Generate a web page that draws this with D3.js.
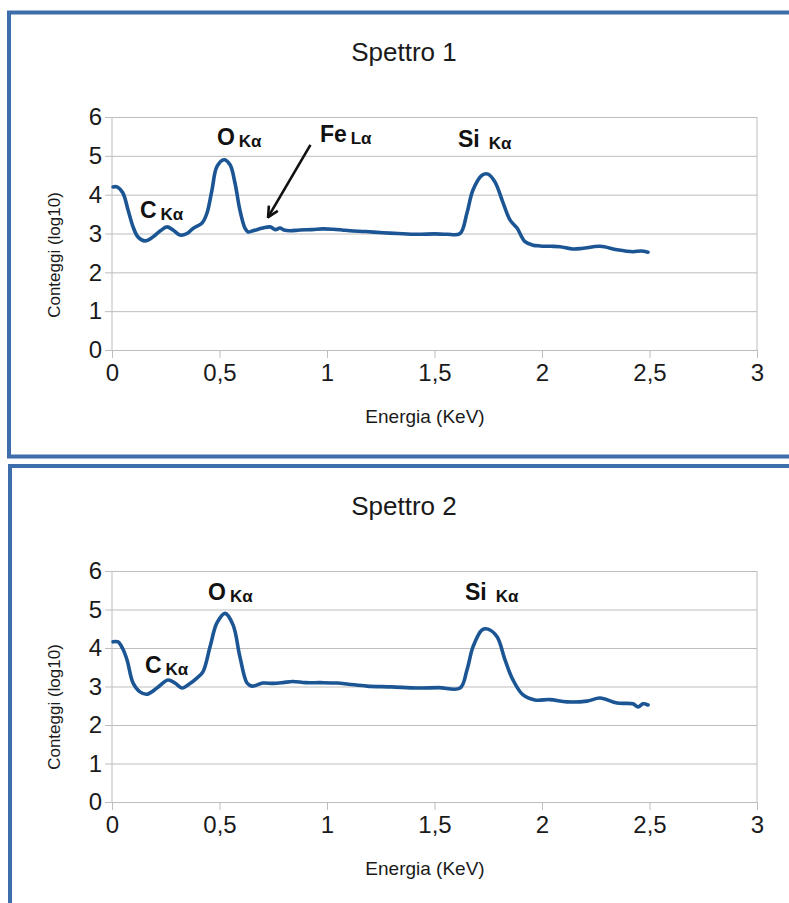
<!DOCTYPE html>
<html lang="it">
  <head>
    <meta charset="UTF-8" />
    <script src="https://d3js.org/d3.v7.min.js"></script>
    <title>Spettri EDS</title>
    <style>
      body { margin: 0; background: #fff; }
      svg { display: block; font-family: "Liberation Sans", Arial, sans-serif; }
    </style>
  </head>
  <body>
    <div id="chart"></div>
    <script>
      // Energy (keV) and log10 counts
      const energy1 = [0.005, 0.023, 0.05, 0.075, 0.098, 0.121, 0.153, 0.19, 0.225, 0.256, 0.284, 0.316,
        0.349, 0.377, 0.419, 0.442, 0.465, 0.488, 0.521, 0.549, 0.572, 0.595, 0.619, 0.633, 0.656,
        0.702, 0.735, 0.76, 0.781, 0.8, 0.828, 0.874, 0.93, 0.981, 1.028, 1.07, 1.107, 1.18, 1.26,
        1.33, 1.419, 1.5, 1.558, 1.619, 1.651, 1.679, 1.721, 1.749, 1.781, 1.819, 1.851, 1.884,
        1.921, 1.958, 1.991, 2.04, 2.084, 2.144, 2.191, 2.27, 2.349, 2.423, 2.46, 2.493];
      const counts1 = [4.2, 4.2, 4.05, 3.6, 3.17, 2.91, 2.81, 2.91, 3.07, 3.17, 3.09, 2.96,
        3.0, 3.13, 3.27, 3.53, 4.12, 4.72, 4.9, 4.77, 4.3, 3.6, 3.13, 3.04, 3.07,
        3.14, 3.17, 3.1, 3.14, 3.09, 3.07, 3.09, 3.1, 3.12, 3.11, 3.09, 3.07, 3.05, 3.02,
        3.0, 2.98, 2.99, 2.98, 3.0, 3.53, 4.12, 4.5, 4.53, 4.33, 3.79, 3.35, 3.14,
        2.79, 2.7, 2.68, 2.67, 2.66, 2.6, 2.62, 2.67, 2.58, 2.53, 2.55, 2.52];

      const energy2 = [0.005, 0.028, 0.05, 0.07, 0.098, 0.13, 0.163, 0.209, 0.26, 0.293, 0.326,
        0.353, 0.395, 0.423, 0.456, 0.488, 0.526, 0.563, 0.595, 0.628, 0.651, 0.702, 0.75,
        0.795, 0.84, 0.9, 0.97, 1.047, 1.1, 1.186, 1.3, 1.419, 1.52, 1.619, 1.651, 1.679, 1.721,
        1.749, 1.791, 1.828, 1.865, 1.912, 1.967, 2.037, 2.116, 2.209, 2.27, 2.349, 2.423,
        2.447, 2.47, 2.493];
      const counts2 = [4.16, 4.16, 3.98, 3.69, 3.09, 2.86, 2.8, 2.96, 3.17, 3.09, 2.96,
        3.04, 3.22, 3.38, 4.03, 4.65, 4.9, 4.6, 3.77, 3.09, 3.01, 3.09, 3.08,
        3.1, 3.13, 3.1, 3.1, 3.09, 3.06, 3.01, 2.99, 2.96, 2.97, 2.96, 3.43, 4.03, 4.47,
        4.49, 4.29, 3.69, 3.17, 2.78, 2.65, 2.66, 2.6, 2.62, 2.7, 2.57, 2.55,
        2.47, 2.55, 2.52];

      const xTicks = [0, 0.5, 1, 1.5, 2, 2.5, 3];
      const xTickLabels = ["0", "0,5", "1", "1,5", "2", "2,5", "3"];
      const yTicks = [0, 1, 2, 3, 4, 5, 6];

      // peak labels: element, line, energy, log counts of the label's left/baseline
      const peaks1 = [
        { el: "C", line: "Kα", e: 0.13, c: 3.4 },
        { el: "O", line: "Kα", e: 0.488, c: 5.28 },
        { el: "Fe", line: "Lα", e: 0.967, c: 5.36 },
        { el: "Si", line: "Kα", e: 1.609, c: 5.23 },
      ];
      const peaks2 = [
        { el: "C", line: "Kα", e: 0.153, c: 3.35 },
        { el: "O", line: "Kα", e: 0.447, c: 5.25 },
        { el: "Si", line: "Kα", e: 1.642, c: 5.25 },
      ];
      // arrow pointing at Fe L-alpha (from, to) in data units
      const feArrow = [{ e: 0.923, c: 5.28 }, { e: 0.726, c: 3.42 }];

      const W = 789, H = 903;
      const svg = d3.select("#chart").append("svg").attr("width", W).attr("height", H);

      svg.append("defs").append("marker")
        .attr("id", "head")
        .attr("viewBox", "0 0 10 10")
        .attr("refX", 9).attr("refY", 5)
        .attr("markerWidth", 5).attr("markerHeight", 5)
        .attr("orient", "auto")
        .append("path")
        .attr("d", "M1,1 L9,5 L1,9")
        .attr("fill", "none")
        .attr("stroke", "#111")
        .attr("stroke-width", 2);

      function panel(opts) {
        const g = svg.append("g");
        // frame
        g.append("rect")
          .attr("x", opts.frame[0]).attr("y", opts.frame[1])
          .attr("width", 900).attr("height", opts.frame[2])
          .attr("fill", "none")
          .attr("stroke", "#3e6dab")
          .attr("stroke-width", 4);

        const left = 112, right = 757, top = opts.top, bottom = opts.bottom;
        const x = d3.scaleLinear().domain([0, 3]).range([left, right]);
        const y = d3.scaleLinear().domain([0, 6]).range([bottom, top]);

        // horizontal grid + y axis
        g.append("g")
          .attr("transform", `translate(${left},0)`)
          .call(d3.axisLeft(y).tickValues(yTicks).tickFormat(d3.format("d"))
            .tickSizeInner(-(right - left)).tickSizeOuter(0).tickPadding(10))
          .call(a => a.select(".domain").remove())
          .call(a => a.selectAll("line").attr("stroke", "#bdbdbd").attr("x1", -7))
          .call(a => a.selectAll("text").attr("fill", "#1a1a1a").style("font-size", "24px"));

        // x axis
        g.append("g")
          .attr("transform", `translate(0,${bottom})`)
          .call(d3.axisBottom(x).tickValues(xTicks).tickFormat((d, i) => xTickLabels[i]).tickSize(8).tickPadding(6))
          .call(a => a.select(".domain").remove())
          .call(a => a.selectAll("line").attr("stroke", "#bdbdbd"))
          .call(a => a.selectAll("text").attr("fill", "#1a1a1a").style("font-size", "24px"));

        // plot borders (left axis and right edge)
        g.selectAll(".vborder").data([0, 3]).join("line")
          .attr("x1", d => x(d)).attr("x2", d => x(d))
          .attr("y1", top).attr("y2", bottom)
          .attr("stroke", "#bdbdbd");

        const pts = opts.energy.map((e, i) => [e, opts.counts[i]]);
        g.append("path")
          .datum(pts)
          .attr("fill", "none")
          .attr("stroke", "#1b5594")
          .attr("stroke-width", 3.6)
          .attr("stroke-linejoin", "round")
          .attr("stroke-linecap", "round")
          .attr("d", d3.line().x(d => x(d[0])).y(d => y(d[1])).curve(d3.curveCatmullRom.alpha(0.5)));

        // titles
        g.append("text")
          .attr("x", 404).attr("y", opts.titleY)
          .attr("text-anchor", "middle")
          .attr("fill", "#1a1a1a")
          .style("font-size", "26px")
          .text(opts.title);

        g.append("text")
          .attr("x", 425).attr("y", bottom + 73)
          .attr("text-anchor", "middle")
          .attr("fill", "#1a1a1a")
          .style("font-size", "19px")
          .text("Energia (KeV)");

        g.append("text")
          .attr("transform", `translate(60,${opts.yLabelC}) rotate(-90)`)
          .attr("text-anchor", "middle")
          .attr("fill", "#1a1a1a")
          .style("font-size", "17px")
          .text("Conteggi (log10)");

        // peak labels
        const lab = g.selectAll(".peak").data(opts.peaks).join("text")
          .attr("x", d => x(d.e)).attr("y", d => y(d.c))
          .attr("fill", "#111")
          .attr("font-weight", "bold");
        lab.append("tspan").style("font-size", "23px").text(d => d.el);
        lab.append("tspan").attr("dx", d => d.el === "Si" ? 9 : 4).attr("dy", 2)
          .style("font-size", "17px").text(d => d.line);

        if (opts.arrow) {
          g.append("line")
            .attr("x1", x(opts.arrow[0].e)).attr("y1", y(opts.arrow[0].c))
            .attr("x2", x(opts.arrow[1].e)).attr("y2", y(opts.arrow[1].c))
            .attr("stroke", "#111")
            .attr("stroke-width", 2.6)
            .attr("marker-end", "url(#head)");
        }
      }

      panel({ frame: [9, 12.5, 444], top: 117, bottom: 350, title: "Spettro 1", titleY: 61,
        yLabelC: 255, energy: energy1, counts: counts1, peaks: peaks1, arrow: feArrow });
      panel({ frame: [10, 466, 600], top: 571, bottom: 802, title: "Spettro 2", titleY: 515,
        yLabelC: 707, energy: energy2, counts: counts2, peaks: peaks2 });
    </script>
  </body>
</html>
